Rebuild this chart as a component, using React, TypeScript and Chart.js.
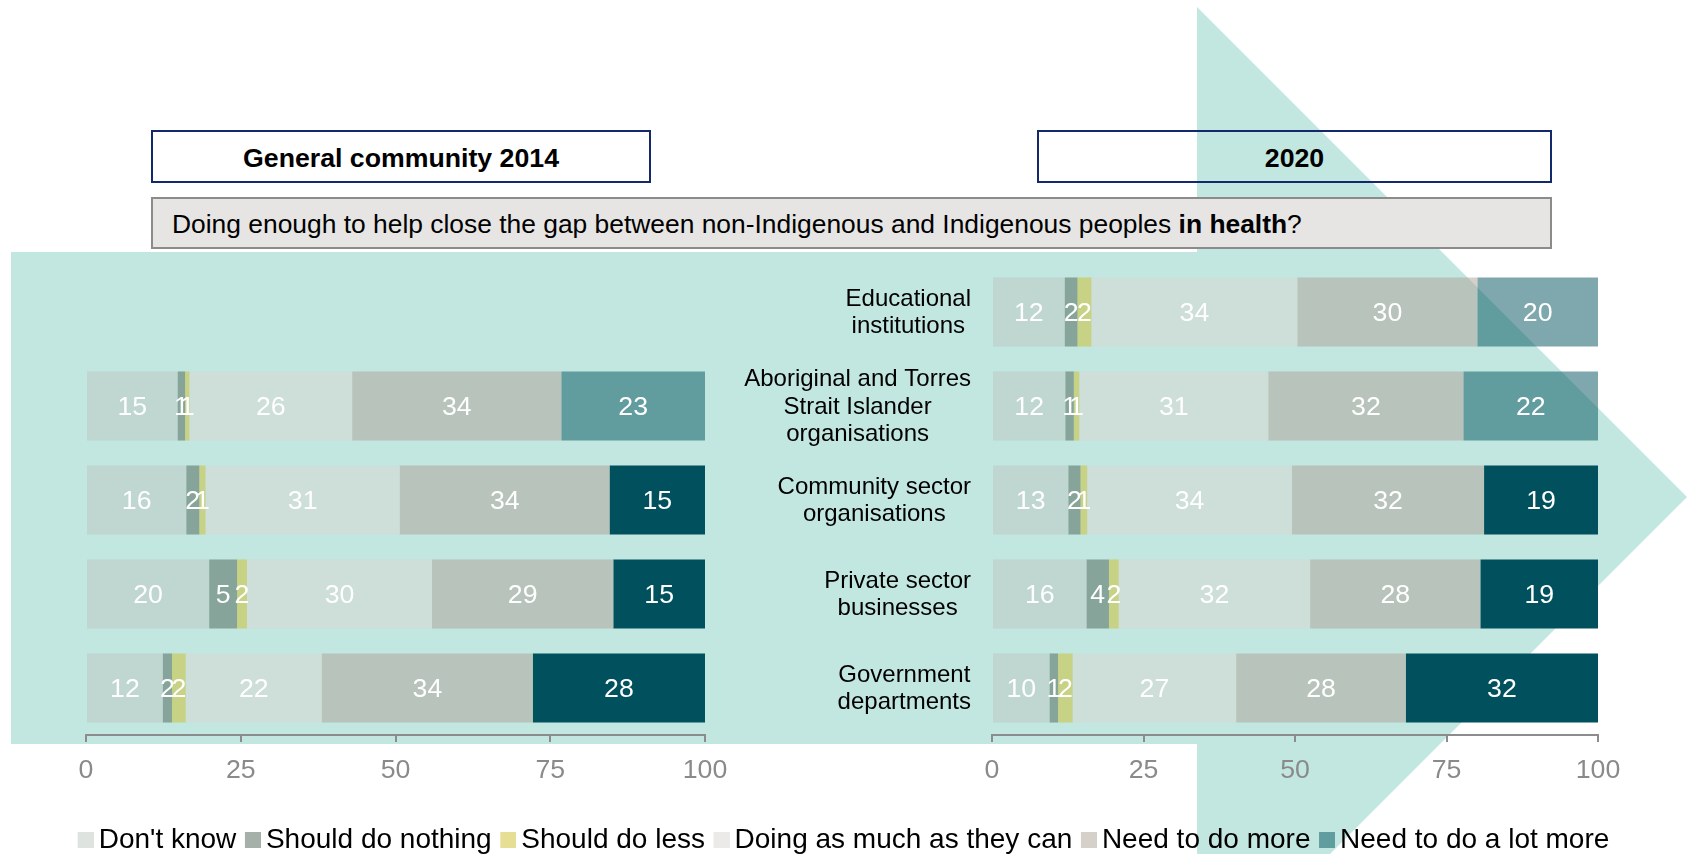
import React, { useEffect, useRef } from 'react';
import { Chart, registerables } from 'chart.js';

Chart.register(...registerables);

const FONT = '"Liberation Sans", Arial, Helvetica, sans-serif';

// ---------- data ----------
const CATEGORIES: string[][] = [
  ['Educational', 'institutions'],
  ['Aboriginal and Torres', 'Strait Islander', 'organisations'],
  ['Community sector', 'organisations'],
  ['Private sector', 'businesses'],
  ['Government', 'departments'],
];

const SERIES_NAMES = [
  "Don't know",
  'Should do nothing',
  'Should do less',
  'Doing as much as they can',
  'Need to do more',
  'Need to do a lot more',
];

// General community 2014 (no Educational institutions row)
const DONT_KNOW_2014 = [null, 14.8, 16.2, 19.9, 12.4];
const NOTHING_2014 = [null, 1.2, 2.1, 4.5, 1.5];
const LESS_2014 = [null, 0.7, 1.0, 1.6, 2.2];
const AS_MUCH_2014 = [null, 26.3, 31.4, 29.9, 22.0];
const MORE_2014 = [null, 33.8, 33.9, 29.3, 34.1];
const LOT_MORE_2014 = [null, 23.2, 15.4, 14.8, 27.8];

// 2020
const DONT_KNOW_2020 = [12.0, 12.1, 12.6, 15.6, 9.5];
const NOTHING_2020 = [2.1, 1.4, 2.0, 3.7, 1.4];
const LESS_2020 = [2.3, 0.9, 1.1, 1.6, 2.4];
const AS_MUCH_2020 = [34.0, 31.2, 33.8, 31.6, 27.0];
const MORE_2020 = [29.7, 32.2, 31.7, 28.1, 28.0];
const LOT_MORE_2020 = [19.9, 22.2, 18.8, 19.4, 31.7];

const X_TICKS = [0, 25, 50, 75, 100];

// ---------- styles ----------
const TEAL_BG = '#c2e6e0';
const SERIES_COLORS = [
  'rgba(190,200,193,0.5)',
  'rgba(73,97,83,0.5)',
  'rgba(205,189,41,0.5)',
  'rgba(218,214,210,0.5)',
  'rgba(173,161,150,0.5)',
];
const LOT_DARK = '#00515d';
const LOT_MUTED = 'rgba(0,81,93,0.5)';
const MUTED_ROWS_2014 = [false, true, false, false, false];
const MUTED_ROWS_2020 = [true, true, false, false, false];

const CANVAS_W = 1687;
const CANVAS_H = 864;

// legend swatch: 16x16 square placed at the right of a wider transparent image,
// so the visible square sits at the item's start with a small gap before the text
function makeSwatch(color: string): HTMLCanvasElement {
  const c = document.createElement('canvas');
  c.width = 25;
  c.height = 16;
  const g = c.getContext('2d') as CanvasRenderingContext2D;
  g.fillStyle = color;
  g.fillRect(9, 0, 16, 16);
  return c;
}

const valueLabels = {
  id: 'valueLabels',
  afterDatasetsDraw(chart: any) {
    const ctx = chart.ctx;
    ctx.save();
    ctx.font = `26.7px ${FONT}`;
    ctx.fillStyle = '#ffffff';
    ctx.textAlign = 'center';
    ctx.textBaseline = 'middle';
    chart.data.datasets.forEach((ds: any, i: number) => {
      const meta = chart.getDatasetMeta(i);
      meta.data.forEach((el: any, j: number) => {
        const v = ds.data[j];
        if (v === null || v === undefined) return;
        const p = el.getProps(['x', 'y', 'base'], true);
        ctx.fillText(String(Math.round(v)), (p.x + p.base) / 2, p.y + 1.5);
      });
    });
    ctx.restore();
  },
};

const categoryLabels = {
  id: 'categoryLabels',
  afterDraw(chart: any) {
    const ys = chart.scales.y;
    const ctx = chart.ctx;
    ctx.save();
    ctx.font = `24px ${FONT}`;
    ctx.fillStyle = '#000000';
    ctx.textAlign = 'center';
    ctx.textBaseline = 'middle';
    const right = chart.chartArea.left - 21;
    const lh = 27.5;
    (chart.data.labels as string[][]).forEach((lines, i) => {
      const w = Math.max(...lines.map((l) => ctx.measureText(l).width));
      const cx = right - w / 2;
      const cy = ys.getPixelForValue(i) + 1;
      lines.forEach((l, k) => {
        ctx.fillText(l, cx, cy + (k - (lines.length - 1) / 2) * lh);
      });
    });
    ctx.restore();
  },
};

function makeDatasets(values: (number | null)[][], muted: boolean[]) {
  return values.map((data, i) => ({
    label: SERIES_NAMES[i],
    data,
    backgroundColor:
      i < 5 ? SERIES_COLORS[i] : muted.map((m) => (m ? LOT_MUTED : LOT_DARK)),
    borderWidth: 0,
    barPercentage: 0.735,
    categoryPercentage: 1,
  }));
}

function makeConfig(
  values: (number | null)[][],
  muted: boolean[],
  leftWidth: number,
  rightWidth: number,
  showLegend: boolean,
  bottomPad: number,
  extraPlugins: any[]
): any {
  return {
    type: 'bar',
    data: {
      labels: CATEGORIES,
      datasets: makeDatasets(values, muted),
    },
    options: {
      indexAxis: 'y',
      responsive: false,
      animation: false,
      events: [],
      layout: { padding: { top: 265, bottom: bottomPad, left: 0, right: 0 } },
      scales: {
        x: {
          type: 'linear',
          stacked: true,
          min: 0,
          max: 100,
          afterBuildTicks(s: any) {
            s.ticks = X_TICKS.map((v) => ({ value: v }));
          },
          ticks: {
            color: '#8a8a8a',
            font: { size: 26.7, family: FONT },
            padding: 13,
            maxRotation: 0,
          },
          grid: {
            display: true,
            drawOnChartArea: false,
            drawTicks: true,
            tickLength: 7,
            color: '#8c8c8c',
            lineWidth: 2,
          },
          border: { display: true, color: '#8c8c8c', width: 2 },
          afterFit(s: any) {
            s.height = 82.4;
          },
        },
        y: {
          type: 'category',
          stacked: true,
          position: 'left',
          ticks: { display: false },
          grid: { display: false },
          border: { display: false },
          afterFit(s: any) {
            s.width = leftWidth;
          },
        },
        r: {
          type: 'linear',
          position: 'right',
          display: true,
          ticks: { display: false },
          grid: { display: false },
          border: { display: false },
          afterFit(s: any) {
            s.width = rightWidth;
          },
        },
      },
      plugins: {
        legend: {
          display: showLegend,
          position: 'bottom',
          labels: {
            usePointStyle: true,
            pointStyleWidth: 7,
            boxWidth: 7,
            boxHeight: 16,
            padding: 8.6,
            color: '#000000',
            font: { size: 28, family: FONT },
            generateLabels(chart: any) {
              const base = (Chart.defaults as any).plugins.legend.labels.generateLabels(chart);
              return base.map((item: any) => ({
                ...item,
                pointStyle: makeSwatch(item.fillStyle),
              }));
            },
          },
        },
        tooltip: { enabled: false },
        title: { display: false },
      },
    },
    plugins: [valueLabels, ...extraPlugins],
  };
}

export default function App() {
  const refA = useRef<HTMLCanvasElement>(null);
  const refB = useRef<HTMLCanvasElement>(null);

  useEffect(() => {
    Chart.defaults.font.family = FONT;
    const chartB = new Chart(
      refB.current as HTMLCanvasElement,
      makeConfig(
        [DONT_KNOW_2020, NOTHING_2020, LESS_2020, AS_MUCH_2020, MORE_2020, LOT_MORE_2020],
        MUTED_ROWS_2020,
        992,
        89,
        true,
        0,
        [categoryLabels]
      )
    );
    const legendH = chartB.legend ? (chartB.legend as any).height : 46.6;
    const chartA = new Chart(
      refA.current as HTMLCanvasElement,
      makeConfig(
        [DONT_KNOW_2014, NOTHING_2014, LESS_2014, AS_MUCH_2014, MORE_2014, LOT_MORE_2014],
        MUTED_ROWS_2014,
        86,
        982,
        false,
        legendH,
        []
      )
    );
    return () => {
      chartA.destroy();
      chartB.destroy();
    };
  }, []);

  const titleBox: React.CSSProperties = {
    position: 'absolute',
    top: 130,
    height: 53,
    boxSizing: 'border-box',
    border: '2px solid #14296b',
    display: 'flex',
    alignItems: 'center',
    justifyContent: 'center',
    paddingTop: 4,
    fontWeight: 'bold',
    fontSize: 26.7,
    color: '#000',
  };

  return (
    <div
      style={{
        position: 'absolute',
        left: 0,
        top: 0,
        width: CANVAS_W,
        height: 854,
        overflow: 'hidden',
        background: '#ffffff',
        fontFamily: FONT,
      }}
    >
      <svg
        width={CANVAS_W}
        height={854}
        style={{ position: 'absolute', left: 0, top: 0 }}
      >
        <rect x={11} y={252} width={1186} height={492} fill={TEAL_BG} />
        <polygon points="1197,7 1687,497 1197,987" fill={TEAL_BG} />
      </svg>
      <div style={{ ...titleBox, left: 151, width: 500 }}>General community 2014</div>
      <div style={{ ...titleBox, left: 1037, width: 515 }}>2020</div>
      <div
        style={{
          position: 'absolute',
          left: 151,
          top: 197,
          width: 1401,
          height: 52,
          boxSizing: 'border-box',
          border: '2px solid #8d8b89',
          background: '#e6e5e3',
          display: 'flex',
          alignItems: 'center',
          paddingLeft: 19,
          paddingTop: 2,
          fontSize: 26.4,
          color: '#000',
          whiteSpace: 'nowrap',
        }}
      >
        <span>
          Doing enough to help close the gap between non-Indigenous and Indigenous peoples{' '}
          <b>in health</b>?
        </span>
      </div>
      <canvas
        ref={refA}
        width={CANVAS_W}
        height={CANVAS_H}
        style={{ position: 'absolute', left: 0, top: 0 }}
      />
      <canvas
        ref={refB}
        width={CANVAS_W}
        height={CANVAS_H}
        style={{ position: 'absolute', left: 0, top: 0 }}
      />
    </div>
  );
}
